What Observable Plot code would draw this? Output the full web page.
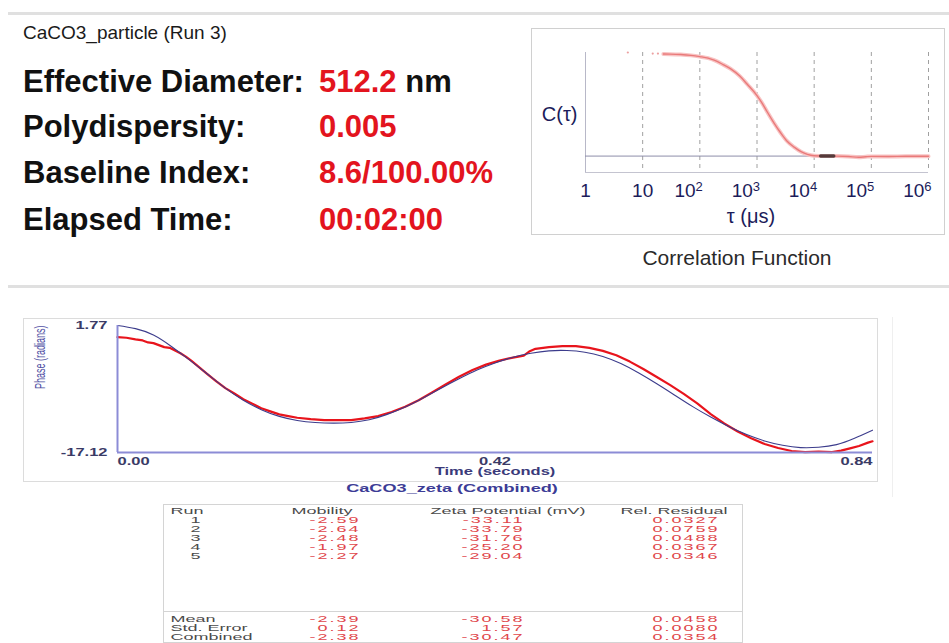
<!DOCTYPE html>
<html>
<head>
<meta charset="utf-8">
<script src="https://cdn.jsdelivr.net/npm/d3@7"></script>
<script src="https://cdn.jsdelivr.net/npm/@observablehq/plot@0.6"></script>
<style>
  html, body { margin: 0; padding: 0; background: #fff; }
  #page { position: relative; width: 949px; height: 643px; overflow: hidden;
          font-family: "Liberation Sans", Arial, sans-serif; }
</style>
</head>
<body>
<div id="page"></div>
<script>
// ---- Particle size summary (Run 3) ----
const sampleName = "CaCO3_particle (Run 3)";
const summaryLabels = ["Effective Diameter:", "Polydispersity:", "Baseline Index:", "Elapsed Time:"];
const summaryValues = ["512.2", "0.005", "8.6/100.00%", "00:02:00"];
const summaryUnits = [" nm", "", "", ""];

// ---- Correlation function C(tau), tau in microseconds ----
const tauTicks = [1, 10, 100, 1e3, 1e4, 1e5, 1e6];
const tauGrid = [10, 100, 1e3, 1e4, 1e5, 1e6];
const tau = [23, 30, 46, 70, 100, 140, 178, 250, 347, 500, 676, 1000, 1250, 1514, 2000, 2570,
             3300, 4470, 6000, 7600, 10000, 15000, 25000, 40000, 60000, 80000, 100000, 200000, 400000, 1000000];
const corr = [0.995, 0.994, 0.99, 0.982, 0.97, 0.955, 0.935, 0.895, 0.85, 0.78, 0.70, 0.59, 0.51, 0.43, 0.32, 0.23,
              0.15, 0.087, 0.04, 0.017, 0.004, 0.0, 0.0, -0.004, -0.011, -0.006, -0.003, -0.004, -0.002, -0.002];
const tauEarly = [5.5, 15, 18.5];
const corrEarly = [1.01, 1.0, 1.0];
const tauDense = [13000, 16000, 19000, 22000];
const corrDense = [0, 0.001, 0, 0];

// ---- Zeta phase plot: measured phase and fitted phase (radians) ----
const phaseTicks = [-17.12, 1.77];
const timeTicks = [0, 0.42, 0.84];
const fitTime = [0, 0.02, 0.04, 0.06, 0.08, 0.10, 0.12, 0.14, 0.16, 0.18, 0.20, 0.22, 0.24, 0.26, 0.28, 0.30,
                 0.32, 0.34, 0.36, 0.38, 0.40, 0.42, 0.44, 0.46, 0.48, 0.50, 0.52, 0.54, 0.56, 0.58, 0.60,
                 0.62, 0.64, 0.66, 0.68, 0.70, 0.72, 0.74, 0.76, 0.78, 0.80, 0.82, 0.84];
const fitPhase = [1.77, 1.30, 0.35, -1.35, -3.35, -5.45, -7.55, -9.35, -10.75, -11.75, -12.35, -12.65, -12.75, -12.65,
                  -12.25, -11.45, -10.35, -9.0, -7.55, -6.15, -4.85, -3.80, -2.95, -2.35, -2.0, -1.95, -2.2, -2.85,
                  -3.9, -5.3, -6.9, -8.6, -10.3, -11.85, -13.25, -14.45, -15.4, -16.05, -16.4, -16.35, -15.95, -15.0, -13.8];
const dataTime = [0, 0.010, 0.020, 0.028, 0.034, 0.040, 0.046, 0.052, 0.058, 0.064, 0.070, 0.076, 0.082, 0.090,
                  0.100, 0.110, 0.120, 0.130, 0.140, 0.150, 0.160, 0.170, 0.180, 0.190, 0.200, 0.215, 0.230, 0.245,
                  0.260, 0.275, 0.290, 0.305, 0.320, 0.335, 0.350, 0.365, 0.380, 0.395, 0.410, 0.425, 0.440, 0.452,
                  0.458, 0.465, 0.480, 0.495, 0.510, 0.525, 0.540, 0.555, 0.570, 0.585, 0.600, 0.615, 0.630, 0.645,
                  0.660, 0.675, 0.690, 0.705, 0.720, 0.735, 0.750, 0.765, 0.780, 0.795, 0.805, 0.815, 0.825, 0.835, 0.840];
const dataPhase = [0.05, -0.05, -0.30, -0.45, -0.75, -0.85, -1.15, -1.45, -1.55, -1.95, -2.35, -2.85, -3.45, -4.35,
                   -5.45, -6.55, -7.55, -8.35, -9.20, -9.85, -10.55, -11.0, -11.45, -11.70, -11.95, -12.15, -12.30, -12.30,
                   -12.30, -12.05, -11.70, -11.10, -10.30, -9.35, -8.20, -7.0, -5.85, -4.85, -4.05, -3.45, -3.0, -2.70,
                   -2.10, -1.70, -1.45, -1.30, -1.30, -1.55, -2.0, -2.65, -3.60, -4.70, -5.90, -7.10, -8.40, -9.80,
                   -11.40, -12.80, -14.0, -15.0, -15.85, -16.45, -16.90, -17.05, -17.0, -17.05, -16.85, -16.50, -16.15, -15.65, -15.45];

// ---- Zeta results table ----
const tableColumns = ["Run", "Mobility", "Zeta Potential (mV)", "Rel. Residual"];
const runIds = ["1", "2", "3", "4", "5"];
const mobility = [-2.59, -2.64, -2.48, -1.97, -2.27];
const zeta = [-33.11, -33.79, -31.76, -25.20, -29.04];
const residual = [0.0327, 0.0759, 0.0488, 0.0367, 0.0346];
const statRows = ["Mean", "Std. Error", "Combined"];
const mobilityStats = [-2.39, 0.12, -2.38];
const zetaStats = [-30.58, 1.57, -30.47];
const residualStats = [0.0458, 0.0080, 0.0354];

// ------------------------------------------------------------------
const FONT = '"Liberation Sans", Arial, sans-serif';
const RED = "#e3141e";
const page = d3.select("#page");

// Static panel decoration and summary text
const deco = page.append("svg")
  .attr("width", 949).attr("height", 643)
  .style("position", "absolute").style("left", "0px").style("top", "0px")
  .attr("font-family", FONT);

deco.append("line").attr("x1", 8).attr("x2", 949).attr("y1", 13.5).attr("y2", 13.5)
  .attr("stroke", "#e0e0e0").attr("stroke-width", 3);
deco.append("line").attr("x1", 8).attr("x2", 949).attr("y1", 286.5).attr("y2", 286.5)
  .attr("stroke", "#e0e0e0").attr("stroke-width", 3);

deco.append("text").attr("x", 23).attr("y", 39).attr("font-size", 19).attr("fill", "#1a1a1a").text(sampleName);

const baselines = [92, 137, 183, 230];
summaryLabels.forEach((label, i) => {
  deco.append("text").attr("x", 23).attr("y", baselines[i])
    .attr("font-size", 31).attr("font-weight", "bold").attr("fill", "#111").text(label);
  const t = deco.append("text").attr("x", 319).attr("y", baselines[i])
    .attr("font-size", 31).attr("font-weight", "bold");
  t.append("tspan").attr("fill", RED).text(summaryValues[i]);
  if (summaryUnits[i]) t.append("tspan").attr("fill", "#111").text(summaryUnits[i]);
});

// correlation function box and caption
deco.append("rect").attr("x", 531.5).attr("y", 28.5).attr("width", 413).attr("height", 206)
  .attr("fill", "none").attr("stroke", "#d0d0d0");
deco.append("text").attr("x", 737).attr("y", 265).attr("text-anchor", "middle")
  .attr("font-size", 21).attr("fill", "#2a2a2a").text("Correlation Function");

// phase plot frame
deco.append("rect").attr("x", 23.5).attr("y", 318.5).attr("width", 854).attr("height", 163)
  .attr("fill", "none").attr("stroke", "#dcdcdc");
deco.append("line").attr("x1", 892.5).attr("x2", 892.5).attr("y1", 317).attr("y2", 497)
  .attr("stroke", "#efefef");

// table frame
deco.append("rect").attr("x", 163.5).attr("y", 504.5).attr("width", 579).attr("height", 138)
  .attr("fill", "none").attr("stroke", "#d4d4d4");
deco.append("line").attr("x1", 163.5).attr("x2", 742.5).attr("y1", 611.5).attr("y2", 611.5)
  .attr("stroke", "#d4d4d4");

function place(node, left, top, w, h) {
  const div = page.append("div")
    .style("position", "absolute").style("left", left + "px").style("top", top + "px")
    .style("width", w + "px").style("height", h + "px");
  div.node().appendChild(node);
  return node;
}

// Widen text glyphs horizontally (or across the line for rotated labels)
function stretchText(svg, sx, sy = 1, filter = () => true) {
  d3.select(svg).selectAll("text").each(function () {
    if (!filter(this)) return;
    const el = d3.select(this);
    let tr = el.attr("transform") || "";
    const x = el.attr("x");
    if (x != null && !String(x).endsWith("em")) { tr += ` translate(${x},0)`; el.attr("x", null); }
    el.attr("transform", `${tr} scale(${sx},${sy})`);
  });
}

// ---- Correlation function chart ----
const corrData = tau.map((t, i) => ({tau: t, c: corr[i]}));
const earlyData = tauEarly.map((t, i) => ({tau: t, c: corrEarly[i]}));
const denseData = tauDense.map((t, i) => ({tau: t, c: corrDense[i]}));

const corrPlot = Plot.plot({
  width: 414, height: 207,
  marginLeft: 54, marginRight: 17, marginTop: 24, marginBottom: 63,
  x: {type: "log", domain: [1, 1e6], label: null},
  y: {domain: [-0.16, 1.01], label: null, axis: null},
  style: {background: "none", fontFamily: FONT, fontSize: "19px", color: "#1c1c5a", display: "block", overflow: "visible"},
  marks: [
    Plot.gridX(tauGrid, {stroke: "#a0a0a0", strokeOpacity: 1, strokeDasharray: "4,4"}),
    Plot.ruleX([1], {stroke: "#b8b8c8"}),
    Plot.ruleY([-0.16], {stroke: "#c4c4d0"}),
    Plot.ruleY([0], {stroke: "#8e8eaa"}),
    Plot.line(corrData, {x: "tau", y: "c", stroke: "#f8c4c4", strokeWidth: 4, curve: "monotone-x"}),
    Plot.line(corrData, {x: "tau", y: "c", stroke: "#e97a7a", strokeWidth: 1.4, curve: "monotone-x"}),
    Plot.dot(earlyData, {x: "tau", y: "c", r: 1.1, fill: "#eca0a0", stroke: null}),
    Plot.line(denseData, {x: "tau", y: "c", stroke: "#3a2a2a", strokeWidth: 3.5, strokeOpacity: 0.85}),
    Plot.axisX(tauTicks, {
      tickSize: 0, tickPadding: 11, label: null,
      tickFormat: d => d < 100 ? String(d) : "10^" + Math.round(Math.log10(d))
    }),
    Plot.text(["τ (μs)"], {frameAnchor: "bottom", lineAnchor: "bottom", dx: -6, dy: 50, fontSize: 20}),
    Plot.text(["C(τ)"], {frameAnchor: "left", lineAnchor: "bottom", textAnchor: "end", dx: -8, dy: 8, fontSize: 20})
  ]
});
// power-of-ten labels with raised exponents
d3.select(corrPlot).selectAll("text").each(function () {
  const m = /^10\^(\d)$/.exec(this.textContent);
  if (!m) return;
  const el = d3.select(this);
  el.text(null).attr("text-anchor", "end")
    .attr("transform", (el.attr("transform") || "") + " translate(3,0)");
  el.append("tspan").text("10");
  el.append("tspan").attr("dy", -6).attr("font-size", 13).text(m[1]);
});
place(corrPlot, 531, 28, 414, 207);

// ---- Phase plot ----
const fitData = fitTime.map((t, i) => ({t, v: fitPhase[i]}));
const measData = dataTime.map((t, i) => ({t, v: dataPhase[i]}));

const phasePlot = Plot.plot({
  width: 855, height: 164,
  marginLeft: 94, marginRight: 6, marginTop: 7, marginBottom: 30,
  x: {domain: [0, 0.84], label: null},
  y: {domain: [-17.12, 1.77], label: null},
  style: {background: "none", fontFamily: FONT, fontSize: "10px", fontWeight: "bold", color: "#3a3a66", display: "block", overflow: "visible"},
  marks: [
    Plot.line(measData, {x: "t", y: "v", stroke: "#e8141c", strokeWidth: 2.2, curve: "linear"}),
    Plot.line(fitData, {x: "t", y: "v", stroke: "#3c3c8c", strokeWidth: 1.1, curve: "natural"}),
    Plot.ruleX([0], {stroke: "#8c8cd6", strokeWidth: 2}),
    Plot.ruleY([-17.12], {stroke: "#8c8cd6", strokeWidth: 2}),
    Plot.axisY(phaseTicks, {tickSize: 0, tickPadding: 10, label: null, tickFormat: d => d.toFixed(2)}),
    Plot.axisX(timeTicks, {tickSize: 0, tickPadding: 5, label: null, tickFormat: d => d.toFixed(2)}),
    Plot.text(["Time (seconds)"], {frameAnchor: "bottom", lineAnchor: "bottom", dy: 22, fill: "#3a3a7a"}),
    Plot.text(["CaCO3_zeta (Combined)"], {frameAnchor: "bottom", lineAnchor: "bottom", dx: -43, dy: 39, fontSize: 11, fill: "#3c3c96"}),
    Plot.text(["Phase (radians)"], {frameAnchor: "left", rotate: -90, dx: -77, fontSize: 9, fontWeight: "normal", fill: "#5050a4"})
  ]
});
d3.select(phasePlot).selectAll("text").each(function () {
  if (this.textContent === "0.00") d3.select(this).attr("text-anchor", "start");
  if (this.textContent === "0.84") d3.select(this).attr("text-anchor", "end");
});
stretchText(phasePlot, 1.65, 1, n => n.textContent !== "Phase (radians)");
stretchText(phasePlot, 1, 1.6, n => n.textContent === "Phase (radians)");
place(phasePlot, 23, 318, 855, 164);

// ---- Results table ----
const rowKeys = ["header", ...runIds, "g1", "g2", "g3", "g4", "g5", "g6", ...statRows];
const fmt2 = v => v.toFixed(2);
const fmt4 = v => v.toFixed(4);
const cells = [];
runIds.forEach((r, i) => {
  cells.push({row: r, col: "Run", text: r, kind: "id"});
  cells.push({row: r, col: "Mobility", text: fmt2(mobility[i]), kind: "value"});
  cells.push({row: r, col: "Zeta Potential (mV)", text: fmt2(zeta[i]), kind: "value"});
  cells.push({row: r, col: "Rel. Residual", text: fmt4(residual[i]), kind: "value"});
});
statRows.forEach((r, i) => {
  cells.push({row: r, col: "Run", text: r, kind: "label"});
  cells.push({row: r, col: "Mobility", text: fmt2(mobilityStats[i]), kind: "value"});
  cells.push({row: r, col: "Zeta Potential (mV)", text: fmt2(zetaStats[i]), kind: "value"});
  cells.push({row: r, col: "Rel. Residual", text: fmt4(residualStats[i]), kind: "value"});
});

// per-column offsets: header start, value right edge
const colOffset = {
  "Run": {head: 0, value: 30},
  "Mobility": {head: -29, value: 40},
  "Zeta Potential (mV)": {head: -40, value: 54},
  "Rel. Residual": {head: 0, value: 99}
};
const VALUE_RED = "#e0464b";
const tableMarks = [];
tableColumns.forEach(c => {
  tableMarks.push(Plot.text([c], {x: d => d, y: () => "header", textAnchor: "start", lineAnchor: "bottom",
    dx: colOffset[c].head, fill: "#4a4a4a"}));
  tableMarks.push(Plot.text(cells, {filter: d => d.col === c && d.kind === "value", x: "col", y: "row", text: "text",
    textAnchor: "end", lineAnchor: "bottom", dx: colOffset[c].value, fill: VALUE_RED}));
});
tableMarks.push(Plot.text(cells, {filter: d => d.kind === "id", x: "col", y: "row", text: "text",
  textAnchor: "end", lineAnchor: "bottom", dx: colOffset["Run"].value, fill: "#4a4a4a"}));
tableMarks.push(Plot.text(cells, {filter: d => d.kind === "label", x: "col", y: "row", text: "text",
  textAnchor: "start", lineAnchor: "bottom", dx: colOffset["Run"].head, fill: "#4a4a4a"}));

const tablePlot = Plot.plot({
  width: 582, height: 143,
  marginLeft: 0, marginRight: 0, marginTop: 0, marginBottom: 0,
  x: {type: "point", domain: tableColumns, range: [7, 457], padding: 0, axis: null},
  y: {type: "point", domain: rowKeys, range: [13, 139], padding: 0, axis: null},
  style: {background: "none", fontFamily: FONT, fontSize: "9px", display: "block", overflow: "visible"},
  marks: tableMarks
});
d3.select(tablePlot).selectAll(`g[fill="${VALUE_RED}"] text`).style("letter-spacing", "1px");
stretchText(tablePlot, 2.0, 1);
place(tablePlot, 163, 500, 582, 143);
</script>
</body>
</html>
